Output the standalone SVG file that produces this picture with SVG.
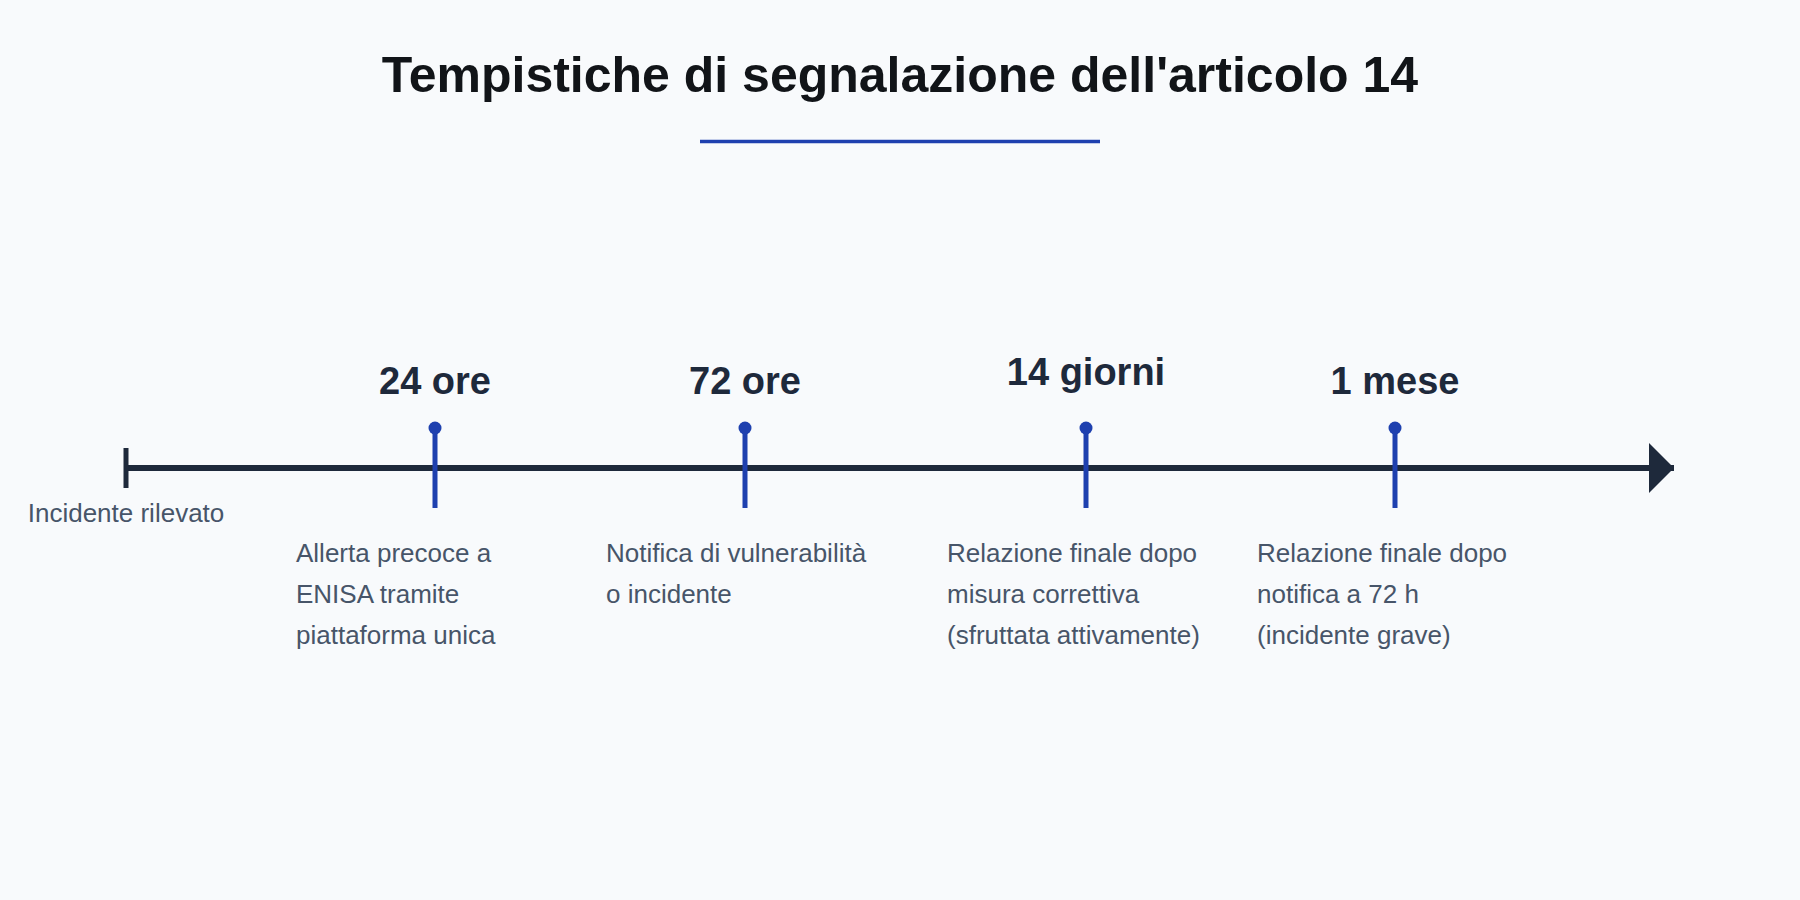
<svg xmlns="http://www.w3.org/2000/svg" width="1800" height="900" viewBox="0 0 1800 900">
  <defs>
    <style>
      .title { font-family: "Liberation Sans", Arial, sans-serif; font-weight: bold; font-size: 50px; fill: #111418; }
      .when { font-family: "Liberation Sans", Arial, sans-serif; font-weight: bold; font-size: 38px; fill: #1e293b; text-anchor: middle; }
      .desc { font-family: "Liberation Sans", Arial, sans-serif; font-size: 26px; fill: #475569; }
      .start { font-family: "Liberation Sans", Arial, sans-serif; font-size: 26px; fill: #475569; text-anchor: middle; }
      .axis { stroke: #1e293b; stroke-width: 6; fill: none; }
      .tick { stroke: #1e40af; stroke-width: 5; }
      .dot { fill: #1e40af; }
    </style>
    <marker id="arrow" markerUnits="userSpaceOnUse" markerWidth="26" markerHeight="52" refX="25" refY="25" orient="auto">
      <path d="M0,0 L25,25 L0,50 Z" fill="#1e293b"/>
    </marker>
  </defs>
  <rect width="1800" height="900" fill="#f8fafc"/>

  <g id="title">
    <text class="title" x="900" y="92" text-anchor="middle">Tempistiche di segnalazione dell'articolo 14</text>
    <line x1="700" y1="141.5" x2="1100" y2="141.5" stroke="#1e40af" stroke-width="3.5"/>
  </g>

  <g id="connectors">
    <line class="axis" x1="126" y1="468" x2="1674" y2="468" marker-end="url(#arrow)"/>
    <line x1="126" y1="448" x2="126" y2="488" stroke="#1e293b" stroke-width="5"/>
  </g>

  <g id="start">
    <text class="start" x="126" y="522">Incidente rilevato</text>
  </g>

  <g id="m24">
    <line class="tick" x1="435" y1="428" x2="435" y2="508"/>
    <circle class="dot" cx="435" cy="428" r="6.5"/>
    <text class="when" x="435" y="394">24 ore</text>
    <text class="desc" x="296" y="562">Allerta precoce a</text>
    <text class="desc" x="296" y="603">ENISA tramite</text>
    <text class="desc" x="296" y="644">piattaforma unica</text>
  </g>

  <g id="m72">
    <line class="tick" x1="745" y1="428" x2="745" y2="508"/>
    <circle class="dot" cx="745" cy="428" r="6.5"/>
    <text class="when" x="745" y="394">72 ore</text>
    <text class="desc" x="606" y="562">Notifica di vulnerabilità</text>
    <text class="desc" x="606" y="603">o incidente</text>
  </g>

  <g id="m14g">
    <line class="tick" x1="1086" y1="428" x2="1086" y2="508"/>
    <circle class="dot" cx="1086" cy="428" r="6.5"/>
    <text class="when" x="1086" y="385">14 giorni</text>
    <text class="desc" x="947" y="562">Relazione finale dopo</text>
    <text class="desc" x="947" y="603">misura correttiva</text>
    <text class="desc" x="947" y="644">(sfruttata attivamente)</text>
  </g>

  <g id="m1m">
    <line class="tick" x1="1395" y1="428" x2="1395" y2="508"/>
    <circle class="dot" cx="1395" cy="428" r="6.5"/>
    <text class="when" x="1395" y="394">1 mese</text>
    <text class="desc" x="1257" y="562">Relazione finale dopo</text>
    <text class="desc" x="1257" y="603">notifica a 72 h</text>
    <text class="desc" x="1257" y="644">(incidente grave)</text>
  </g>
</svg>
